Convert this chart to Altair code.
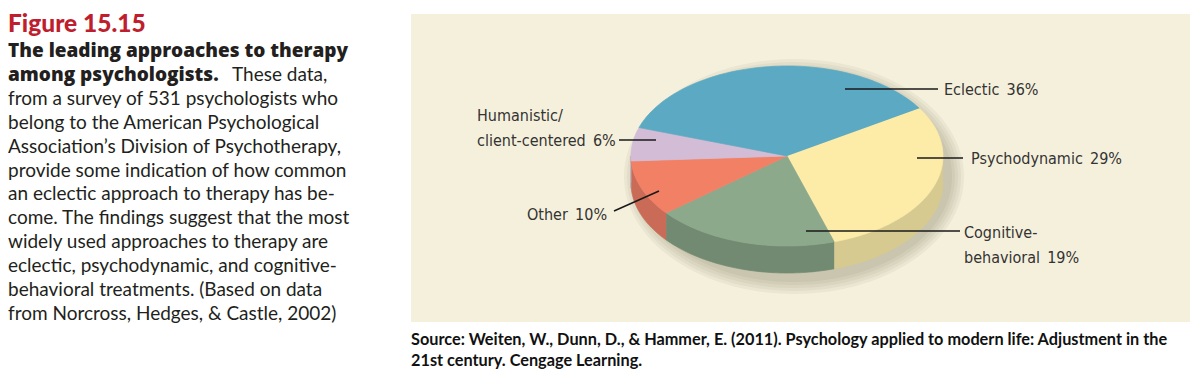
import altair as alt
import pandas as pd

# ---------------- data ----------------
categories = ["Psychodynamic", "Cognitive-behavioral", "Other",
              "Humanistic/client-centered", "Eclectic"]
values = [29, 19, 10, 6, 36]

SP_ = "\u2002"
label_texts = [["Psychodynamic" + SP_ + "29%"], ["Cognitive-", "behavioral" + SP_ + "19%"], ["Other" + SP_ + "10%"],
               ["Humanistic/", "client-centered" + SP_ + "6%"], ["Eclectic" + SP_ + "36%"]]

title_text = "Figure 15.15"
bold_line1 = "The leading approaches to therapy"
bold_line2 = "among psychologists."
rest_line2 = "These data,"
body_lines = [
    "from a survey of 531 psychologists who",
    "belong to the American Psychological",
    "Association\u2019s Division of Psychotherapy,",
    "provide some indication of how common",
    "an eclectic approach to therapy has be-",
    "come. The findings suggest that the most",
    "widely used approaches to therapy are",
    "eclectic, psychodynamic, and cognitive-",
    "behavioral treatments. (Based on data",
    "from Norcross, Hedges, & Castle, 2002)",
]
source_lines = [
    "Source: Weiten, W., Dunn, D., & Hammer, E. (2011). Psychology applied to modern life: Adjustment in the",
    "21st century. Cengage Learning.",
]

# ---------------- styles / layout ----------------
top_colors = ["#fdeba8", "#8da98b", "#f28065", "#d3bcd6", "#5ba9c3"]
side_colors = ["#d6ca90", "#718a71", "#c96b56", "#b09cb3", "#4a8ba0"]
W, H = 1184, 364
CX, CY, RX, RY, DEPTH, START, N = 779, 148, 156, 90, 27, 58, 72

BODY_FONT = "Lato"
HEAD_FONT = "Open Sans"
LABEL_FONT = "DejaVu Sans Condensed, Liberation Sans Narrow, Roboto"

xs = alt.Scale(domain=[0, W])
ys = alt.Scale(domain=[0, H], reverse=True)

pie_df = pd.DataFrame({"idx": list(range(len(values))), "category": categories, "value": values})


def one():
    return alt.Chart(pd.DataFrame({"a": [0]}))


def pie_base():
    return (
        alt.Chart(pie_df)
        .transform_window(cum="sum(value)", sort=[alt.SortField("idx")], frame=[None, 0])
        .transform_joinaggregate(total="sum(value)")
        .transform_calculate(
            a0=f"{START} + 360*(datum.cum - datum.value)/datum.total",
            a1=f"{START} + 360*datum.cum/datum.total",
        )
    )


# top surface of each slice
top = (
    pie_base()
    .transform_calculate(steps=f"sequence(0, {N + 2})")
    .transform_flatten(["steps"], as_=["k"])
    .transform_calculate(t=f"datum.a0 + (datum.a1 - datum.a0)*(datum.k - 1)/{N}")
    .transform_calculate(
        px=f"datum.k == 0 ? {CX} : {CX} + {RX}*sin(datum.t*PI/180)",
        py=f"datum.k == 0 ? {CY} : {CY} - {RY}*cos(datum.t*PI/180)",
    )
    .mark_line(filled=True, strokeWidth=0.7)
    .encode(
        x=alt.X("px:Q", scale=xs, axis=None),
        y=alt.Y("py:Q", scale=ys, axis=None),
        order="k:Q",
        color=alt.Color("category:N", scale=alt.Scale(domain=categories, range=top_colors), legend=None),
        stroke=alt.Stroke("category:N", scale=alt.Scale(domain=categories, range=top_colors), legend=None),
    )
)

# front side (depth) of each slice
side = (
    pie_base()
    .transform_calculate(s0="max(datum.a0, 90)", s1="min(datum.a1, 270)")
    .transform_filter("datum.s1 > datum.s0")
    .transform_calculate(steps=f"sequence(0, {2 * N + 2})")
    .transform_flatten(["steps"], as_=["k"])
    .transform_calculate(
        t=f"datum.k <= {N} ? datum.s0 + (datum.s1 - datum.s0)*datum.k/{N} : "
          f"datum.s1 - (datum.s1 - datum.s0)*(datum.k - {N + 1})/{N}",
    )
    .transform_calculate(
        px=f"{CX} + {RX}*sin(datum.t*PI/180)",
        py=f"{CY} - {RY}*cos(datum.t*PI/180) + (datum.k <= {N} ? 0 : {DEPTH})",
    )
    .mark_line(filled=True, strokeWidth=0.7)
    .encode(
        x=alt.X("px:Q", scale=xs, axis=None),
        y=alt.Y("py:Q", scale=ys, axis=None),
        order="k:Q",
        color=alt.Color("category:N", scale=alt.Scale(domain=categories, range=side_colors), legend=None),
        stroke=alt.Stroke("category:N", scale=alt.Scale(domain=categories, range=side_colors), legend=None),
    )
)

# soft drop shadow
shadow_layers = []
for s in [14, 11, 8, 5, 2]:
    sh = (
        alt.Chart(alt.sequence(0, 121, as_="k"))
        .transform_calculate(
            px=f"{CX + 7} + {RX + s}*sin(datum.k*3*PI/180)",
            py=f"{CY + DEPTH / 2 + 7} - {RY + DEPTH / 2 + s}*cos(datum.k*3*PI/180)",
        )
        .mark_line(filled=True, fill="#5a5038", opacity=0.06, strokeWidth=0)
        .encode(x=alt.X("px:Q", scale=xs, axis=None), y=alt.Y("py:Q", scale=ys, axis=None), order="k:Q")
    )
    shadow_layers.append(sh)

panel = one().mark_rect(color="#f5f0dc").encode(
    x=alt.value(403), x2=alt.value(1182), y=alt.value(6), y2=alt.value(314)
)

# leader lines (page coords minus 8)
leaders = [(909, 150, 955, 150), (798, 223, 952, 223), (606, 203, 651, 183),
           (611, 132, 648, 132), (837, 81, 930, 81)]
leader_layers = [
    one().mark_rule(color="#1a1a1a", strokeWidth=1.6).encode(
        x=alt.value(x1), y=alt.value(y1), x2=alt.value(x2), y2=alt.value(y2))
    for (x1, y1, x2, y2) in leaders
]

label_pos = [(963, 151), (956, 225), (519, 207), (469, 108), (936, 82)]
label_layers = []
for lines, (lx, ly) in zip(label_texts, label_pos):
    for j, ln in enumerate(lines):
        label_layers.append(
            one().mark_text(
                text=ln, font=LABEL_FONT, fontSize=16, color="#333333", align="left", baseline="middle"
            ).encode(x=alt.value(lx), y=alt.value(ly + 25 * j))
        )

text_layers = [
    one().mark_text(
        text=title_text, font=BODY_FONT, fontSize=24.5, fontWeight=900, color="#be1e2d",
        align="left", baseline="alphabetic"
    ).encode(x=alt.value(0), y=alt.value(24))
]
BASE0, SP = 49, 23.9
text_layers.append(
    one().mark_text(
        text=bold_line1, font=HEAD_FONT, fontSize=19, fontWeight=800, color="#231f20",
        align="left", baseline="alphabetic"
    ).encode(x=alt.value(0), y=alt.value(BASE0))
)
text_layers.append(
    one().mark_text(
        text=bold_line2, font=HEAD_FONT, fontSize=19, fontWeight=800, color="#231f20",
        align="left", baseline="alphabetic"
    ).encode(x=alt.value(0), y=alt.value(BASE0 + SP))
)
text_layers.append(
    one().mark_text(
        text=rest_line2, font=BODY_FONT, fontSize=19, color="#231f20",
        align="left", baseline="alphabetic"
    ).encode(x=alt.value(224), y=alt.value(BASE0 + SP))
)
for i, ln in enumerate(body_lines):
    text_layers.append(
        one().mark_text(
            text=ln, font=BODY_FONT, fontSize=19, color="#231f20", align="left", baseline="alphabetic"
        ).encode(x=alt.value(0), y=alt.value(BASE0 + SP * (i + 2)))
    )
for i, ln in enumerate(source_lines):
    text_layers.append(
        one().mark_text(
            text=ln, font=BODY_FONT, fontSize=16.3, fontWeight="bold", color="#111111",
            align="left", baseline="middle"
        ).encode(x=alt.value(403), y=alt.value(332 + 21 * i))
    )

chart = (
    alt.layer(panel, *shadow_layers, side, top, *leader_layers, *label_layers, *text_layers)
    .resolve_scale(color="independent", stroke="independent")
    .properties(width=W, height=H, padding=0, autosize=alt.AutoSizeParams(type="none"),
                background="white")
    .configure_view(stroke=None)
)

chart.save("out.html", embed_options={"renderer": "svg", "actions": False})
